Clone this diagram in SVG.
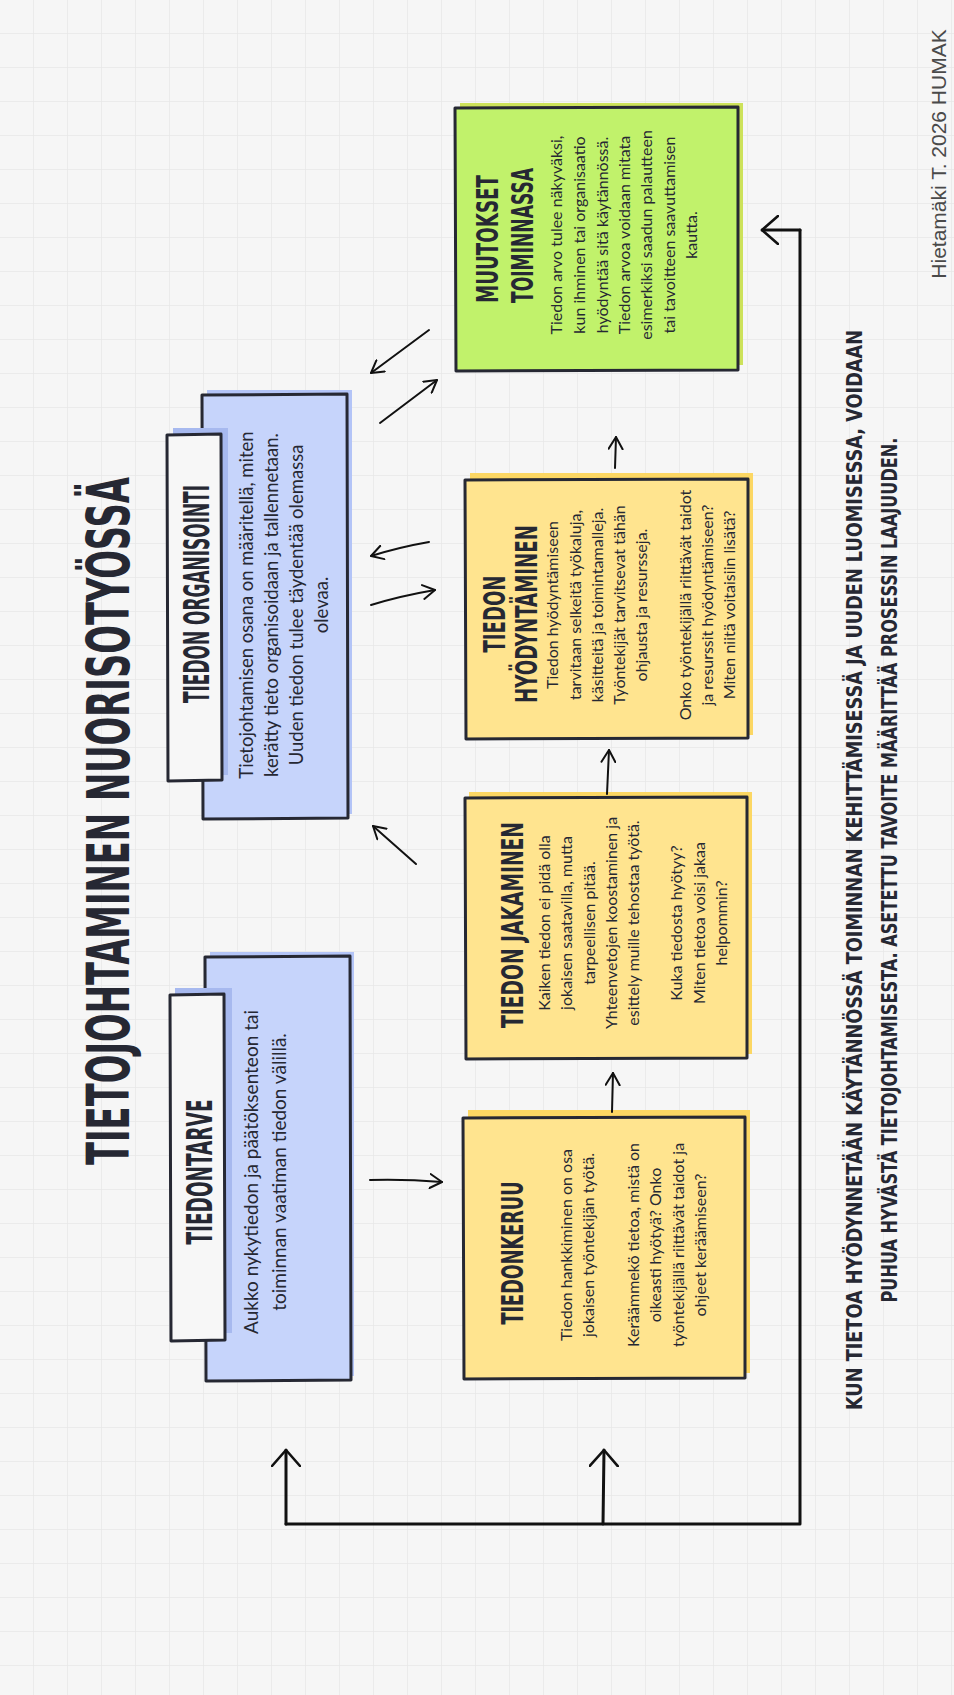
<svg xmlns="http://www.w3.org/2000/svg" width="954" height="1695" viewBox="0 0 954 1695">
<defs>
<pattern id="grid" width="34" height="34" patternUnits="userSpaceOnUse">
<path d="M34 0V34M0 34H34" fill="none" stroke="#e8e8e8" stroke-width="1.5"/>
</pattern>
<marker id="ah" viewBox="0 0 14 16" refX="13" refY="8" markerWidth="14" markerHeight="16" markerUnits="userSpaceOnUse" orient="auto">
<path d="M1,1 L13,8 L1,15" fill="none" stroke="#111" stroke-width="2" stroke-linecap="round" stroke-linejoin="round"/>
</marker>
<marker id="ahB" viewBox="0 0 18 30" refX="17" refY="15" markerWidth="18" markerHeight="30" markerUnits="userSpaceOnUse" orient="auto">
<path d="M1,1 L17,15 L1,29" fill="none" stroke="#111" stroke-width="2.6" stroke-linecap="round" stroke-linejoin="round"/>
</marker>
</defs>
<style>
.box{stroke:#262833;stroke-width:3;stroke-linejoin:round}
.yel{fill:#ffe48f}
.yels{fill:#fcd763}
.blue{fill:#c6d4fb}
.blues{fill:#b3c4f7}
.lab{fill:#f7f7f7}
.labs{fill:#a7b9ef}
.grn{fill:#c1f26b}
.grns{fill:#cde25a}
.ttl{font-family:"DejaVu Sans Condensed","DejaVu Sans",sans-serif;font-weight:bold;fill:#262833;text-anchor:middle}
.body{font-family:Lato,"Noto Sans",sans-serif;fill:#262833;text-anchor:middle}
.con{fill:none;stroke:#111;stroke-width:2;stroke-linecap:round}
.loop{fill:none;stroke:#111;stroke-width:3;stroke-linecap:round;stroke-linejoin:round}
</style>
<rect width="954" height="1695" fill="#f6f6f6"/>
<rect width="954" height="1695" fill="url(#grid)"/>

<g id="title">
<text class="ttl" transform="translate(129,821) rotate(-90)" font-size="58" textLength="688" lengthAdjust="spacingAndGlyphs">TIETOJOHTAMINEN NUORISOTYÖSSÄ</text>
</g>

<g id="tiedontarve">
<path class="blues" d="M210,952 H354 V1376 H210Z"/>
<path class="box blue" d="M205,957 L350,956 L351,1380 L206,1381 Z"/>
<path class="labs" d="M175,988 H232 V1333 H175Z"/>
<path class="box lab" d="M170,995 L224,994 L225,1340 L171,1341Z"/>
<text class="ttl" transform="translate(212,1172) rotate(-90)" font-size="36" textLength="145" lengthAdjust="spacingAndGlyphs">TIEDONTARVE</text>
<g transform="translate(0,1172) rotate(-90)">
<text class="body" font-size="19"><tspan x="0" y="258">Aukko nykytiedon ja päätöksenteon tai</tspan><tspan x="0" y="286">toiminnan vaatiman tiedon välillä.</tspan></text>
</g>
</g>

<g id="tiedon-organisointi">
<path class="blues" d="M207,390 H352 V814 H207Z"/>
<path class="box blue" d="M202,395 L347,394 L348,818 L203,819 Z"/>
<path class="labs" d="M173,428 H228 V775 H173Z"/>
<path class="box lab" d="M167,435 L221,434 L222,780 L168,781Z"/>
<text class="ttl" transform="translate(209,594) rotate(-90)" font-size="35" textLength="218" lengthAdjust="spacingAndGlyphs">TIEDON ORGANISOINTI</text>
<g transform="translate(0,605) rotate(-90)">
<text class="body" font-size="18.5"><tspan x="0" y="253">Tietojohtamisen osana on määritellä, miten</tspan><tspan x="0" y="278">kerätty tieto organisoidaan ja tallennetaan.</tspan><tspan x="0" y="303">Uuden tiedon tulee täydentää olemassa</tspan><tspan x="0" y="328">olevaa.</tspan></text>
</g>
</g>

<g id="tiedonkeruu">
<path class="yels" d="M468,1110 H750 V1373 H468Z"/>
<path class="box yel" d="M463,1118 L745,1117 L745,1378 L464,1379 Z"/>
<text class="ttl" transform="translate(523,1253) rotate(-90)" font-size="31" textLength="143" lengthAdjust="spacingAndGlyphs">TIEDONKERUU</text>
<g transform="translate(0,1245) rotate(-90)">
<text class="body" font-size="16"><tspan x="0" y="572">Tiedon hankkiminen on osa</tspan><tspan x="0" y="594">jokaisen työntekijän työtä.</tspan><tspan x="0" y="639">Keräämmekö tietoa, mistä on</tspan><tspan x="0" y="661">oikeasti hyötyä? Onko</tspan><tspan x="0" y="683.5">työntekijällä riittävät taidot ja</tspan><tspan x="0" y="705.5">ohjeet keräämiseen?</tspan></text>
</g>
</g>

<g id="tiedon-jakaminen">
<path class="yels" d="M469,792 H752 V1054 H469Z"/>
<path class="box yel" d="M465,798 L747,797 L747,1058 L466,1059 Z"/>
<text class="ttl" transform="translate(523,925) rotate(-90)" font-size="31" textLength="206" lengthAdjust="spacingAndGlyphs">TIEDON JAKAMINEN</text>
<g transform="translate(0,923) rotate(-90)">
<text class="body" font-size="16"><tspan x="0" y="550">Kaiken tiedon ei pidä olla</tspan><tspan x="0" y="572">jokaisen saatavilla, mutta</tspan><tspan x="0" y="594.5">tarpeellisen pitää.</tspan><tspan x="0" y="616.5">Yhteenvetojen koostaminen ja</tspan><tspan x="0" y="638.5">esittely muille tehostaa työtä.</tspan><tspan x="0" y="682">Kuka tiedosta hyötyy?</tspan><tspan x="0" y="704.5">Miten tietoa voisi jakaa</tspan><tspan x="0" y="726.5">helpommin?</tspan></text>
</g>
</g>

<g id="tiedon-hyodyntaminen">
<path class="yels" d="M470,473 H753 V735 H470Z"/>
<path class="box yel" d="M465,480 L748,479 L748,738 L466,739 Z"/>
<text class="ttl" transform="translate(504.5,614) rotate(-90)" font-size="31" textLength="77" lengthAdjust="spacingAndGlyphs">TIEDON</text>
<text class="ttl" transform="translate(536.5,614) rotate(-90)" font-size="31" textLength="178" lengthAdjust="spacingAndGlyphs">HYÖDYNTÄMINEN</text>
<g transform="translate(0,605) rotate(-90)">
<text class="body" font-size="16"><tspan x="0" y="558">Tiedon hyödyntämiseen</tspan><tspan x="0" y="580.5">tarvitaan selkeitä työkaluja,</tspan><tspan x="0" y="603">käsitteitä ja toimintamalleja.</tspan><tspan x="0" y="625">Työntekijät tarvitsevat tähän</tspan><tspan x="0" y="647">ohjausta ja resursseja.</tspan><tspan x="0" y="691">Onko työntekijällä riittävät taidot</tspan><tspan x="0" y="713">ja resurssit hyödyntämiseen?</tspan><tspan x="0" y="735">Miten niitä voitaisiin lisätä?</tspan></text>
</g>
</g>

<g id="muutokset-toiminnassa">
<path class="grns" d="M460,103 H743 V365 H460Z"/>
<path class="box grn" d="M455,108 L738,107 L738,370 L456,371 Z"/>
<text class="ttl" transform="translate(498,303) rotate(-90)" font-size="31" style="text-anchor:start" textLength="128" lengthAdjust="spacingAndGlyphs">MUUTOKSET</text>
<text class="ttl" transform="translate(533,303) rotate(-90)" font-size="31" style="text-anchor:start" textLength="135" lengthAdjust="spacingAndGlyphs">TOIMINNASSA</text>
<g transform="translate(0,235) rotate(-90)">
<text class="body" font-size="16"><tspan x="0" y="562">Tiedon arvo tulee näkyväksi,</tspan><tspan x="0" y="585">kun ihminen tai organisaatio</tspan><tspan x="0" y="608">hyödyntää sitä käytännössä.</tspan><tspan x="0" y="630">Tiedon arvoa voidaan mitata</tspan><tspan x="0" y="652">esimerkiksi saadun palautteen</tspan><tspan x="0" y="675">tai tavoitteen saavuttamisen</tspan><tspan x="0" y="697">kautta.</tspan></text>
</g>
</g>

<g id="connectors">
<path class="con" d="M370,1180 Q405,1179 442,1182" marker-end="url(#ah)"/>
<path class="con" d="M612,1112 L613,1073" marker-end="url(#ah)"/>
<path class="con" d="M607,794 L609,750" marker-end="url(#ah)"/>
<path class="con" d="M615,468 L616,437" marker-end="url(#ah)"/>
<path class="con" d="M429,330 L371,373" marker-end="url(#ah)"/>
<path class="con" d="M380,423 L437,380" marker-end="url(#ah)"/>
<path class="con" d="M429,542 Q400,547 371,556" marker-end="url(#ah)"/>
<path class="con" d="M371,605 Q400,596 435,590" marker-end="url(#ah)"/>
<path class="con" d="M416,864 L373,826" marker-end="url(#ah)"/>
<path class="loop" d="M800,230 V1524 H286"/>
<path class="loop" d="M800,230 H762" marker-end="url(#ahB)"/>
<path class="loop" d="M286,1524 V1450" marker-end="url(#ahB)"/>
<path class="loop" d="M603,1524 L604,1450" marker-end="url(#ahB)"/>
</g>

<g id="footer">
<text class="ttl" transform="translate(862,870) rotate(-90)" font-size="22" textLength="1080" lengthAdjust="spacingAndGlyphs">KUN TIETOA HYÖDYNNETÄÄN KÄYTÄNNÖSSÄ TOIMINNAN KEHITTÄMISESSÄ JA UUDEN LUOMISESSA, VOIDAAN</text>
<text class="ttl" transform="translate(897,870) rotate(-90)" font-size="22" textLength="865" lengthAdjust="spacingAndGlyphs">PUHUA HYVÄSTÄ TIETOJOHTAMISESTA. ASETETTU TAVOITE MÄÄRITTÄÄ PROSESSIN LAAJUUDEN.</text>
</g>

<g id="credit">
<text transform="translate(946,154) rotate(-90)" font-family="'Liberation Sans',Arial,sans-serif" font-size="21" fill="#4a4a4a" text-anchor="middle">Hietamäki T. 2026 HUMAK</text>
</g>
</svg>
